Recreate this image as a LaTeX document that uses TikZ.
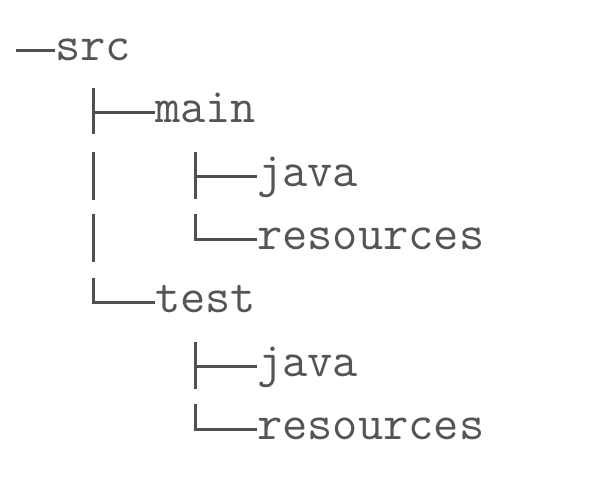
\documentclass[tikz,border=0pt]{standalone}
\usepackage{fontspec}
\definecolor{txtgray}{HTML}{555555}
\definecolor{linegray}{HTML}{505050}
\begin{document}
\begin{tikzpicture}[x=1pt,y=-1pt,
  lbl/.style={anchor=base west, inner sep=0pt, font=\fontsize{49}{49}\selectfont\ttfamily, text=txtgray},
  branch/.style={draw=linegray, line width=3pt}]
\useasboundingbox[fill=white] (0,0) rectangle (608,480);
% labels
\node[lbl] (src)   at (55,60)  {src};
\node[lbl] (main)  at (155,122) {main};
\node[lbl] (java1) at (257,186) {java};
\node[lbl] (res1)  at (257,249) {resources};
\node[lbl] (test)  at (155,312) {test};
\node[lbl] (java2) at (257,376) {java};
\node[lbl] (res2)  at (257,439) {resources};
% junction points
\coordinate (root) at (16,50);
\coordinate (jm)  at (93,112);
\coordinate (jt)  at (93,302);
\coordinate (jj1) at (195,176);
\coordinate (jr1) at (195,239);
\coordinate (jj2) at (195,366);
\coordinate (jr2) at (195,429);
% vertical pieces (box-drawing style, broken between rows)
\coordinate (a1) at (93,88);  \coordinate (a2) at (93,134);
\coordinate (b1) at (93,152); \coordinate (b2) at (93,200);
\coordinate (c1) at (93,214); \coordinate (c2) at (93,262);
\coordinate (d1) at (93,278);
\coordinate (e1) at (195,152); \coordinate (e2) at (195,199);
\coordinate (f1) at (195,214);
\coordinate (g1) at (195,342); \coordinate (g2) at (195,389);
\coordinate (h1) at (195,404);
% connectors
\draw[branch] (root) -- (root -| src.west);
\draw[branch] (a1) -- (a2);
\draw[branch] (jm) -- (jm -| main.west);
\draw[branch] (b1) -- (b2);
\draw[branch] (c1) -- (c2);
\draw[branch] (d1) -- (jt) -- (jt -| test.west);
\draw[branch] (e1) -- (e2);
\draw[branch] (jj1) -- (jj1 -| java1.west);
\draw[branch] (f1) -- (jr1) -- (jr1 -| res1.west);
\draw[branch] (g1) -- (g2);
\draw[branch] (jj2) -- (jj2 -| java2.west);
\draw[branch] (h1) -- (jr2) -- (jr2 -| res2.west);
\end{tikzpicture}
\end{document}
